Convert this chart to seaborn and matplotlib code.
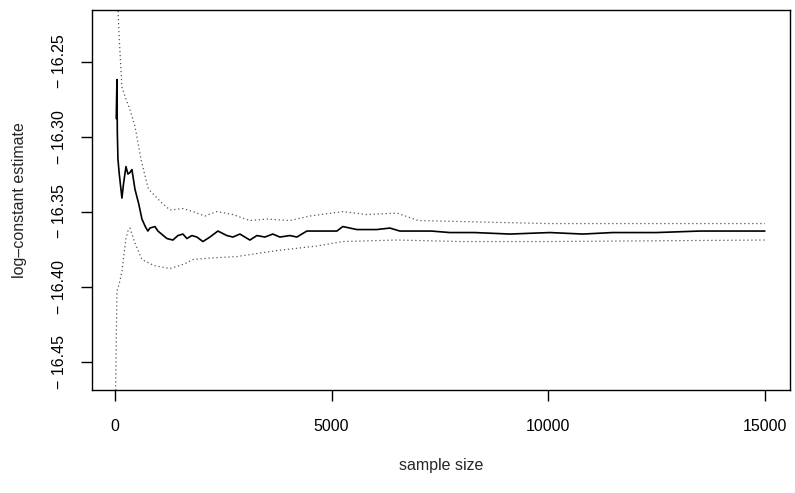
import matplotlib
matplotlib.use("Agg")
import matplotlib.pyplot as plt
import seaborn as sns
import pandas as pd

# running estimate of the log-constant with pointwise bands
n_est = [30, 46, 55, 69, 100, 161, 200, 254, 300, 346, 392, 461, 550, 623, 700, 761,
         807, 923, 992, 1200, 1338, 1453, 1569, 1661, 1776, 1892, 2030, 2192, 2376,
         2584, 2722, 2884, 3114, 3276, 3461, 3645, 3807, 4037, 4199, 4429, 4799, 5122,
         5260, 5583, 6044, 6345, 6575, 6875, 7300, 7729, 8300, 9113, 10036, 10800,
         11489, 12500, 13497, 15000]
estimate = [-16.288, -16.262, -16.297, -16.315, -16.325, -16.341, -16.331, -16.320,
            -16.325, -16.324, -16.322, -16.335, -16.345, -16.355, -16.360, -16.363,
            -16.361, -16.360, -16.363, -16.368, -16.369, -16.366, -16.365, -16.368,
            -16.366, -16.367, -16.370, -16.367, -16.363, -16.366, -16.367, -16.365,
            -16.369, -16.366, -16.367, -16.365, -16.367, -16.366, -16.367, -16.363,
            -16.363, -16.363, -16.360, -16.362, -16.362, -16.361, -16.363, -16.363,
            -16.363, -16.364, -16.364, -16.365, -16.364, -16.365, -16.364, -16.364,
            -16.363, -16.363]

n_up = [50, 70, 100, 161, 254, 346, 461, 600, 761, 807, 1038, 1269, 1569, 1800, 2076,
        2353, 2722, 3114, 3507, 4037, 4499, 5260, 5814, 6506, 7000, 8500, 10000, 12000,
        15000]
upper = [-16.19, -16.215, -16.235, -16.267, -16.275, -16.282, -16.293, -16.315, -16.334,
         -16.336, -16.343, -16.349, -16.348, -16.350, -16.353, -16.350, -16.352, -16.356,
         -16.355, -16.356, -16.353, -16.350, -16.352, -16.351, -16.356, -16.357, -16.358,
         -16.358, -16.358]

n_low = [10, 46, 100, 161, 254, 300, 346, 461, 623, 900, 1269, 1600, 1800, 2192, 2815,
         3737, 4660, 5260, 6506, 8000, 10000, 15000]
lower = [-16.48, -16.403, -16.398, -16.390, -16.368, -16.363, -16.361, -16.371, -16.382,
         -16.386, -16.388, -16.385, -16.382, -16.381, -16.380, -16.376, -16.373, -16.370,
         -16.369, -16.370, -16.370, -16.369]

x_ticks = [0, 5000, 10000, 15000]
y_ticks = [-16.45, -16.40, -16.35, -16.30, -16.25]

sns.set_style("ticks")
plt.rcParams['font.family'] = ['Liberation Sans', 'DejaVu Sans']

fig = plt.figure(figsize=(7.95, 4.93), dpi=100)
ax = fig.add_axes([0.1157, 0.2089, 0.8780, 0.7708])

df_est = pd.DataFrame({"n": n_est, "v": estimate})
df_up = pd.DataFrame({"n": n_up, "v": upper})
df_low = pd.DataFrame({"n": n_low, "v": lower})

# dotted bands first, estimate on top
sns.lineplot(data=df_up, x="n", y="v", ax=ax, color="#555555", lw=0.9,
             linestyle=(0, (1, 2.2)))
sns.lineplot(data=df_low, x="n", y="v", ax=ax, color="#555555", lw=0.9,
             linestyle=(0, (1, 2.2)))
sns.lineplot(data=df_est, x="n", y="v", ax=ax, color="black", lw=1.2)

ax.set_xlim(-530, 15580)
ax.set_ylim(-16.469, -16.2156)
ax.set_xticks(x_ticks)
ax.set_xticklabels([str(t) for t in x_ticks])
ax.set_yticks(y_ticks)
ax.set_yticklabels([f"\u2212 {abs(t):.2f}" for t in y_ticks], rotation=90, va="center")

for s in ax.spines.values():
    s.set_color("black")
    s.set_linewidth(1.0)
ax.tick_params(axis="both", direction="out", length=8, width=1.0, labelsize=11.5,
               color="black", labelcolor="black")
ax.tick_params(axis="x", pad=13)
ax.tick_params(axis="y", pad=10)

ax.set_xlabel("sample size", fontsize=11.5, labelpad=17)
ax.set_ylabel("log\u2013constant estimate", fontsize=11.5, labelpad=18)

fig.savefig("out.png", dpi=100)
